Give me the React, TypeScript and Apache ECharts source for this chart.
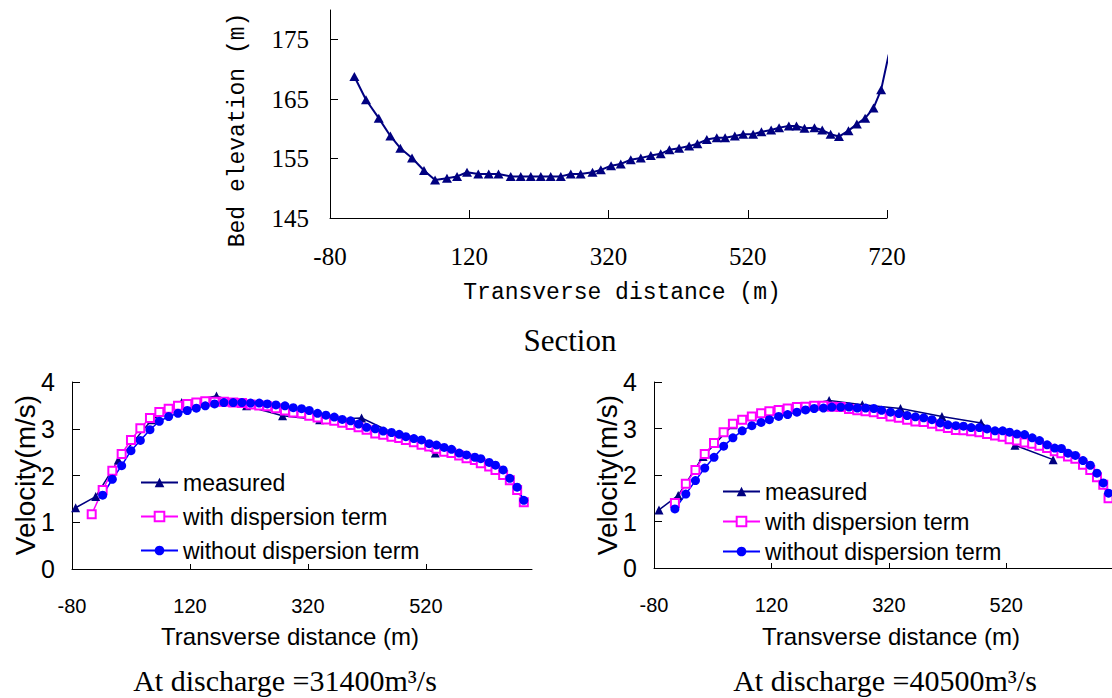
import React, { useEffect, useRef } from "react";
import * as echarts from "echarts";

// ---- Section (bed elevation) ----
const bedX = [-45, -28.3, -10, 6.7, 21, 37.8, 55, 70.9, 88, 102.5, 116.8, 133, 148, 162, 179.6, 194, 208.4, 222.8, 237, 251.5, 265.8, 280, 297, 309, 323.7, 337.6, 352, 366.4, 380.8, 395, 407.5, 421.4, 435.8, 447.7, 461.2, 475.5, 487.5, 501.4, 513.4, 527.7, 539.7, 553.6, 565, 579, 590, 601.5, 615.8, 627, 639, 651, 664.7, 676.7, 688.6, 700.6, 711.6, 722.5];
const bedY = [168.8, 164.9, 161.8, 158.8, 156.75, 155.1, 153.0, 151.4, 151.7, 152.0, 152.7, 152.4, 152.4, 152.4, 152.0, 152.0, 152.0, 152.0, 152.0, 152.0, 152.4, 152.4, 152.7, 153.1, 153.8, 154.1, 154.8, 155.1, 155.5, 155.8, 156.5, 156.75, 157.1, 157.5, 158.2, 158.5, 158.5, 158.8, 159.1, 159.1, 159.5, 159.8, 160.2, 160.5, 160.5, 160.1, 160.2, 159.8, 159.1, 158.7, 159.7, 160.8, 161.8, 163.5, 166.6, 172.5];

// ---- Discharge 31400 m3/s ----
const meas1X = [-73.8, -39.8, -1.5, 55, 106, 165, 216, 277, 340, 411, 536];
const meas1Y = [1.31, 1.55, 2.33, 3.19, 3.56, 3.70, 3.49, 3.28, 3.19, 3.23, 2.48];
const sim1X = [-28.0, -11.6, 4.2, 20.0, 35.9, 52.2, 68.1, 83.9, 99.7, 115.5, 130.8, 146.0, 161.8, 177.6, 193.4, 208.1, 222.8, 237.5, 251.1, 265.8, 281.1, 295.2, 309.3, 322.3, 336.4, 350.6, 364.7, 378.2, 392.4, 405.9, 419.5, 434.2, 447.7, 461.8, 474.8, 486.1, 499.7, 512.7, 525.7, 538.1, 551.1, 563.5, 576.5, 589.0, 603.1, 613.2, 627.4, 638.1, 651.1, 662.4, 674.8, 686.1];
const with1X = [-46.6, ...sim1X];
const with1Y = [1.17, 1.69, 2.10, 2.46, 2.76, 3.01, 3.23, 3.36, 3.43, 3.49, 3.53, 3.56, 3.59, 3.58, 3.58, 3.56, 3.55, 3.52, 3.50, 3.48, 3.44, 3.39, 3.35, 3.33, 3.28, 3.24, 3.20, 3.17, 3.13, 3.08, 3.03, 2.98, 2.90, 2.87, 2.83, 2.80, 2.76, 2.71, 2.66, 2.62, 2.57, 2.51, 2.48, 2.43, 2.37, 2.33, 2.26, 2.19, 2.12, 2.01, 1.90, 1.69, 1.43];
const without1Y = [1.58, 1.92, 2.21, 2.53, 2.75, 2.98, 3.16, 3.26, 3.33, 3.39, 3.44, 3.49, 3.53, 3.56, 3.56, 3.56, 3.55, 3.55, 3.53, 3.51, 3.49, 3.45, 3.43, 3.39, 3.33, 3.29, 3.25, 3.20, 3.17, 3.10, 3.03, 3.00, 2.95, 2.92, 2.88, 2.83, 2.79, 2.76, 2.68, 2.65, 2.60, 2.56, 2.48, 2.44, 2.39, 2.36, 2.28, 2.22, 2.12, 1.94, 1.75, 1.47];

// ---- Discharge 40500 m3/s ----
const meas2X = [-71.5, -38.8, 3.6, 54.4, 105.3, 218.3, 274.8, 339.8, 410.4, 477.1, 534.7, 599.7];
const meas2Y = [1.25, 1.56, 2.40, 3.08, 3.33, 3.60, 3.51, 3.43, 3.26, 3.12, 2.64, 2.33];
const sim2X = [-44.4, -25.8, -9.4, 6.4, 22.2, 38.6, 54.4, 70.2, 86.6, 102.4, 116.5, 132.3, 147.6, 163.4, 178.1, 192.8, 208.6, 222.8, 238, 252.1, 266.2, 280.3, 294.4, 307.6, 322.8, 337, 351.1, 365.2, 379.3, 393.4, 407.5, 420.5, 434.1, 447.1, 460.1, 474.2, 487.2, 500.8, 513.8, 525.6, 538.1, 551.1, 564.1, 576.5, 589.5, 602.5, 613.8, 625.1, 637.6, 650.6, 663, 674.4, 685.1, 694.1];
const with2Y = [1.40, 1.81, 2.11, 2.45, 2.69, 2.92, 3.10, 3.19, 3.26, 3.33, 3.37, 3.40, 3.43, 3.46, 3.47, 3.49, 3.49, 3.47, 3.46, 3.42, 3.39, 3.37, 3.35, 3.31, 3.26, 3.23, 3.19, 3.15, 3.14, 3.10, 3.05, 3.01, 2.97, 2.96, 2.94, 2.92, 2.88, 2.85, 2.82, 2.77, 2.74, 2.70, 2.67, 2.63, 2.58, 2.51, 2.47, 2.40, 2.35, 2.22, 2.11, 1.95, 1.79, 1.50];
const without2Y = [1.27, 1.59, 1.88, 2.15, 2.38, 2.62, 2.80, 2.95, 3.06, 3.13, 3.19, 3.26, 3.30, 3.35, 3.40, 3.43, 3.44, 3.46, 3.46, 3.46, 3.44, 3.44, 3.43, 3.39, 3.35, 3.32, 3.28, 3.25, 3.23, 3.19, 3.12, 3.08, 3.06, 3.05, 3.02, 3.02, 2.99, 2.95, 2.95, 2.92, 2.88, 2.87, 2.80, 2.74, 2.65, 2.58, 2.57, 2.47, 2.42, 2.31, 2.21, 2.04, 1.83, 1.61];

const topXTicks = [-80, 120, 320, 520, 720];
const topYTicks = [145, 155, 165, 175];
const botXTicks = [-80, 120, 320, 520];

const legendNames = ["measured", "with dispersion term", "without dispersion term"];

const zip = (xs: number[], ys: number[]) => xs.map((x, i) => [x, ys[i]]);

export default function App() {
  const ref = useRef<HTMLDivElement>(null);
  useEffect(() => {
    document.body.style.margin = "0";
    const chart = echarts.init(ref.current!, null, { renderer: "svg" });
    const black = { color: "#000", width: 1 };
    const serif = "'Liberation Serif', 'Times New Roman', serif";
    const sans = "'Liberation Sans', Arial, sans-serif";
    const mono = "'Liberation Mono', 'Courier New', monospace";

    const botX = (grid: number) => ({
      gridIndex: grid,
      type: "value",
      min: -80,
      max: 700,
      axisLine: { show: true, onZero: false, lineStyle: black },
      axisTick: { show: true, inside: true, length: 5, customValues: botXTicks, lineStyle: black },
      axisLabel: { customValues: botXTicks, fontFamily: sans, fontSize: 20, color: "#000", margin: 27 },
      splitLine: { show: false },
    });
    const botY = (grid: number) => ({
      gridIndex: grid,
      type: "value",
      min: 0,
      max: 4,
      interval: 1,
      axisLine: { show: true, onZero: false, lineStyle: black },
      axisTick: { show: true, inside: true, length: 8, lineStyle: black },
      axisLabel: { fontFamily: sans, fontSize: 25, color: "#000", margin: 17 },
      splitLine: { show: false },
    });

    const velSeries = (ax: number, mX: number[], mY: number[], wX: number[], wY: number[], oX: number[], oY: number[]) => [
      {
        name: legendNames[0], type: "line", xAxisIndex: ax, yAxisIndex: ax,
        data: zip(mX, mY), symbol: "triangle", symbolSize: 9,
        itemStyle: { color: "#000080" }, lineStyle: { color: "#000080", width: 1.5 },
      },
      {
        name: legendNames[1], type: "line", xAxisIndex: ax, yAxisIndex: ax,
        data: zip(wX, wY), symbol: "emptyRect", symbolSize: 8,
        itemStyle: { color: "#FF00FF", borderWidth: 1.5 }, lineStyle: { color: "#FF00FF", width: 1.5 },
      },
      {
        name: legendNames[2], type: "line", xAxisIndex: ax, yAxisIndex: ax,
        data: zip(oX, oY), symbol: "circle", symbolSize: 9,
        itemStyle: { color: "#0000FF" }, lineStyle: { color: "#0000FF", width: 1.5 },
      },
    ];

    const legend = (left: number, top: number, gap: number) => ({
      data: legendNames,
      orient: "vertical",
      left, top,
      padding: 0,
      itemWidth: 37,
      itemHeight: 12,
      itemGap: gap,
      textStyle: { fontFamily: sans, fontSize: 23, color: "#000" },
    });

    const txt = (text: string, x: number, y: number, fontFamily: string, fontSize: number, rotation = 0) => ({
      type: "text", x, y, rotation,
      style: { text, fontFamily, fontSize, fill: "#000", align: "center", verticalAlign: "middle" },
    });

    const bedData = bedX.map((x, i) =>
      i === bedX.length - 1 ? { value: [x, bedY[i]], symbol: "none" } : [x, bedY[i]]
    );

    const option: any = {
      animation: false,
      backgroundColor: "#fff",
      grid: [
        { left: 330, top: 10, width: 557, height: 208 },
        { left: 72, top: 382, width: 460, height: 187 },
        { left: 654, top: 382, width: 460, height: 186 },
      ],
      xAxis: [
        {
          gridIndex: 0, type: "value", min: -80, max: 720,
          axisLine: { show: true, onZero: false, lineStyle: black },
          axisTick: { show: true, inside: true, length: 8, customValues: topXTicks, lineStyle: black },
          axisLabel: { customValues: topXTicks, fontFamily: serif, fontSize: 25, color: "#000", margin: 26 },
          splitLine: { show: false },
        },
        botX(1),
        botX(2),
      ],
      yAxis: [
        {
          gridIndex: 0, type: "value", min: 145, max: 180,
          axisLine: { show: true, onZero: false, lineStyle: black },
          axisTick: { show: true, inside: true, length: 8, customValues: topYTicks, lineStyle: black },
          axisLabel: { customValues: topYTicks, fontFamily: serif, fontSize: 25, color: "#000", margin: 21 },
          splitLine: { show: false },
        },
        botY(1),
        botY(2),
      ],
      legend: [legend(140, 471, 11), legend(722, 480, 7)],
      series: [
        {
          name: "Bed elevation", type: "line", xAxisIndex: 0, yAxisIndex: 0,
          data: bedData, symbol: "triangle", symbolSize: [10, 9], clip: false,
          itemStyle: { color: "#000080" }, lineStyle: { color: "#000080", width: 2 },
        },
        ...velSeries(1, meas1X, meas1Y, with1X, with1Y, sim1X, without1Y),
        ...velSeries(2, meas2X, meas2Y, sim2X, with2Y, sim2X, without2Y),
      ],
      graphic: [
        txt("Bed elevation (m)", 238, 130, mono, 23, Math.PI / 2),
        txt("Transverse distance (m)", 622, 293, mono, 23),
        txt("Section", 570, 340, serif, 31),
        txt("Velocity(m/s)", 25, 475, sans, 28, Math.PI / 2),
        txt("Velocity(m/s)", 607, 475, sans, 28, Math.PI / 2),
        txt("Transverse distance (m)", 290, 636, sans, 24),
        txt("Transverse distance (m)", 891, 636, sans, 24),
        txt("At discharge =31400m³/s", 285, 680, serif, 30),
        txt("At discharge =40500m³/s", 885, 680, serif, 30),
      ],
    };
    chart.setOption(option);
    return () => chart.dispose();
  }, []);
  return <div ref={ref} style={{ width: 1112, height: 698 }} />;
}
